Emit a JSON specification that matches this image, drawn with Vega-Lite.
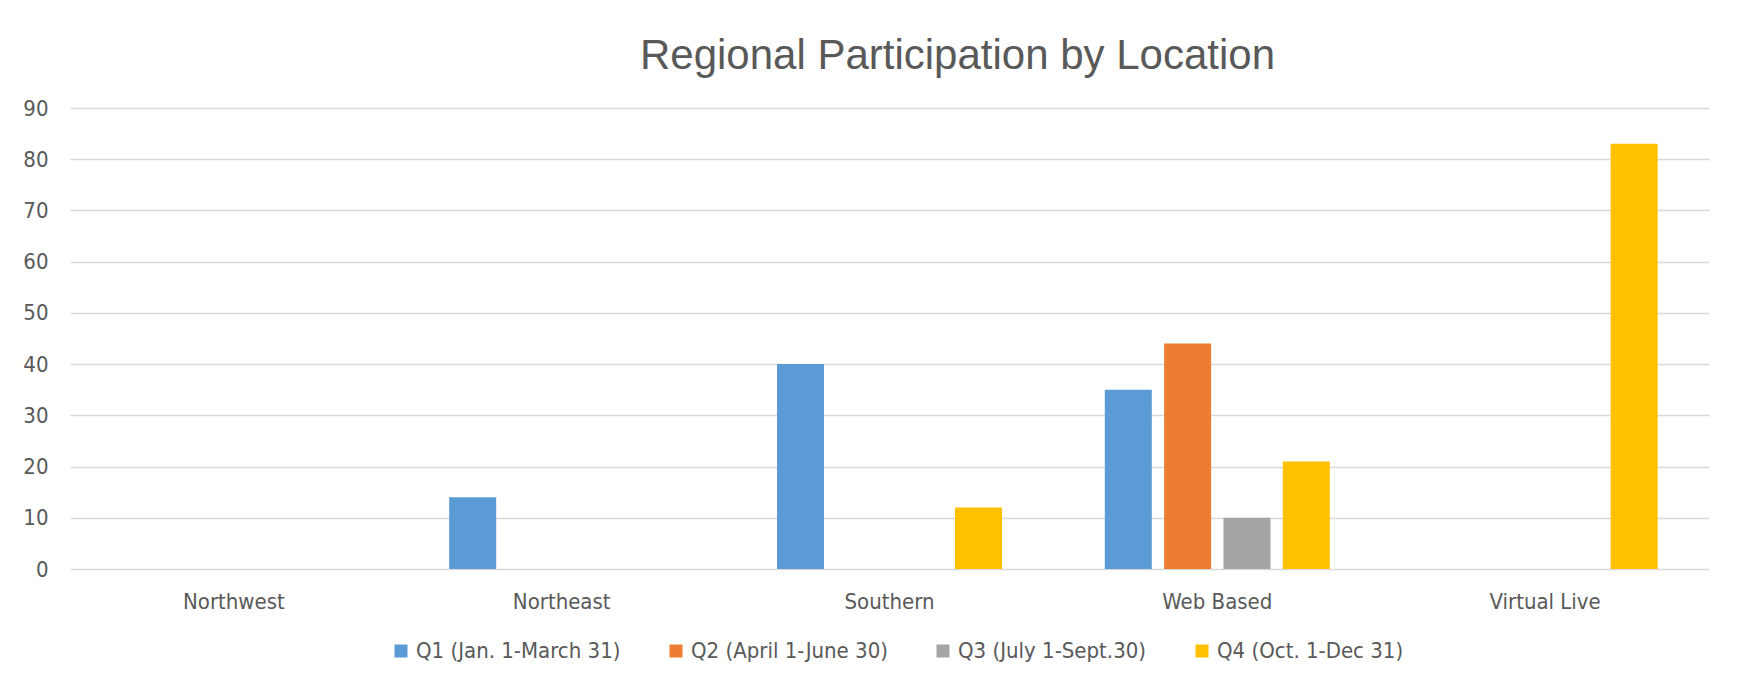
{
  "$schema": "https://vega.github.io/schema/vega-lite/v6.json",
  "width": 1639,
  "height": 461,
  "autosize": {"type": "none"},
  "padding": {"left": 70, "top": 108, "right": 55, "bottom": 123},
  "background": "white",
  "title": {
    "text": "Regional Participation by Location",
    "frame": "group",
    "anchor": "middle",
    "baseline": "alphabetic",
    "offset": 37,
    "dx": 68,
    "dy": 51,
    "font": "Liberation Sans",
    "fontSize": 42,
    "fontWeight": "normal",
    "color": "#595959"
  },
  "data": {
    "values": [
      {"location": "Northwest", "quarter": "Q1 (Jan. 1-March 31)", "value": 0},
      {"location": "Northwest", "quarter": "Q2 (April 1-June 30)", "value": 0},
      {"location": "Northwest", "quarter": "Q3 (July 1-Sept.30)", "value": 0},
      {"location": "Northwest", "quarter": "Q4 (Oct. 1-Dec 31)", "value": 0},
      {"location": "Northeast", "quarter": "Q1 (Jan. 1-March 31)", "value": 14},
      {"location": "Northeast", "quarter": "Q2 (April 1-June 30)", "value": 0},
      {"location": "Northeast", "quarter": "Q3 (July 1-Sept.30)", "value": 0},
      {"location": "Northeast", "quarter": "Q4 (Oct. 1-Dec 31)", "value": 0},
      {"location": "Southern", "quarter": "Q1 (Jan. 1-March 31)", "value": 40},
      {"location": "Southern", "quarter": "Q2 (April 1-June 30)", "value": 0},
      {"location": "Southern", "quarter": "Q3 (July 1-Sept.30)", "value": 0},
      {"location": "Southern", "quarter": "Q4 (Oct. 1-Dec 31)", "value": 12},
      {"location": "Web Based", "quarter": "Q1 (Jan. 1-March 31)", "value": 35},
      {"location": "Web Based", "quarter": "Q2 (April 1-June 30)", "value": 44},
      {"location": "Web Based", "quarter": "Q3 (July 1-Sept.30)", "value": 10},
      {"location": "Web Based", "quarter": "Q4 (Oct. 1-Dec 31)", "value": 21},
      {"location": "Virtual Live", "quarter": "Q1 (Jan. 1-March 31)", "value": 0},
      {"location": "Virtual Live", "quarter": "Q2 (April 1-June 30)", "value": 0},
      {"location": "Virtual Live", "quarter": "Q3 (July 1-Sept.30)", "value": 0},
      {"location": "Virtual Live", "quarter": "Q4 (Oct. 1-Dec 31)", "value": 83}
    ]
  },
  "mark": {"type": "bar"},
  "encoding": {
    "x": {
      "field": "location",
      "type": "nominal",
      "sort": ["Northwest", "Northeast", "Southern", "Web Based", "Virtual Live"],
      "scale": {"paddingInner": 0.3136, "paddingOuter": 0.1568},
      "axis": {
        "title": null,
        "labelAngle": 0,
        "domain": false,
        "ticks": false,
        "tickSize": 0,
        "labelPadding": 39,
        "labelBaseline": "alphabetic",
        "labelFont": "Liberation Sans Narrow, DejaVu Sans Condensed, sans-serif",
        "labelFontSize": 22,
        "labelColor": "#595959"
      }
    },
    "xOffset": {
      "field": "quarter",
      "type": "nominal",
      "sort": ["Q1 (Jan. 1-March 31)", "Q2 (April 1-June 30)", "Q3 (July 1-Sept.30)", "Q4 (Oct. 1-Dec 31)"],
      "scale": {"paddingInner": 0.208, "paddingOuter": 0}
    },
    "y": {
      "field": "value",
      "type": "quantitative",
      "scale": {"domain": [0, 90], "nice": false},
      "axis": {
        "title": null,
        "values": [0, 10, 20, 30, 40, 50, 60, 70, 80, 90],
        "domain": false,
        "ticks": false,
        "tickSize": 0,
        "labelPadding": 22,
        "labelFont": "Liberation Sans Narrow, DejaVu Sans Condensed, sans-serif",
        "labelFontSize": 22,
        "labelColor": "#595959",
        "grid": true,
        "gridColor": "#D9D9D9",
        "gridWidth": 1.5
      }
    },
    "color": {
      "field": "quarter",
      "type": "nominal",
      "sort": ["Q1 (Jan. 1-March 31)", "Q2 (April 1-June 30)", "Q3 (July 1-Sept.30)", "Q4 (Oct. 1-Dec 31)"],
      "scale": {
        "domain": ["Q1 (Jan. 1-March 31)", "Q2 (April 1-June 30)", "Q3 (July 1-Sept.30)", "Q4 (Oct. 1-Dec 31)"],
        "range": ["#5B9BD5", "#ED7D31", "#A5A5A5", "#FFC000"]
      },
      "legend": {
        "title": null,
        "orient": "none",
        "direction": "horizontal",
        "legendX": 320,
        "legendY": 532,
        "padding": 0,
        "symbolType": "square",
        "symbolSize": 169,
        "symbolStrokeWidth": 0,
        "symbolOpacity": 1,
        "labelOffset": 4,
        "columnPadding": 44,
        "labelFont": "Liberation Sans Narrow, DejaVu Sans Condensed, sans-serif",
        "labelFontSize": 22,
        "labelColor": "#595959",
        "labelLimit": 400
      }
    }
  },
  "config": {
    "view": {"stroke": null}
  }
}
